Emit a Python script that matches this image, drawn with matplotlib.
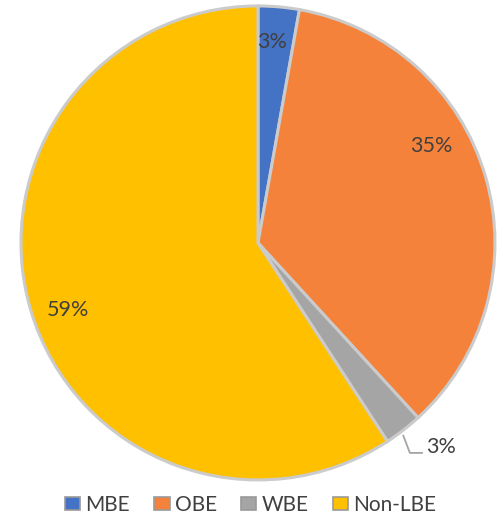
import matplotlib.pyplot as plt
from matplotlib.patches import Patch

# data
labels = ['MBE', 'OBE', 'WBE', 'Non-LBE']
shares = [2.8, 35.4, 2.6, 59.2]
colors = ['#4472C4', '#F5823A', '#A5A5A5', '#FFC000']
text_color = '#404040'

# where the data labels sit (fraction of the radius, like Excel's best fit)
label_pos = [(0.06, 0.85), (0.73, 0.41), (0.71, -0.86), (-0.80, -0.285)]

plt.rcParams['font.family'] = ['Lato', 'DejaVu Sans']

fig = plt.figure(figsize=(4.99, 5.18), dpi=100)
ax = fig.add_axes([0.042, 0.0735, 0.95, 0.915])

wedges, texts, autotexts = ax.pie(
    shares, colors=colors, startangle=90, counterclock=False,
    autopct=lambda p: '%d%%' % round(p),
    wedgeprops=dict(edgecolor='#CBCBCB', linewidth=2.2),
    textprops=dict(color=text_color, fontsize=15.5),
)
ax.set_xlim(-1, 1)
ax.set_ylim(-1, 1)
ax.set_aspect('equal')

for t, (x, y) in zip(autotexts, label_pos):
    t.set_position((x, y))
autotexts[2].set_ha('left')

# leader line for the small WBE slice
ax.plot([0.612, 0.641, 0.696], [-0.81, -0.886, -0.886], color='#A5A5A5', lw=1.3,
        solid_capstyle='butt', clip_on=False)

handles = [Patch(facecolor=c, edgecolor='#9A9A9A', linewidth=1.2) for c in colors]
fig.legend(handles, labels, loc='lower center', bbox_to_anchor=(0.502, -0.03),
           ncol=4, frameon=False, fontsize=15, labelcolor=text_color,
           handlelength=0.75, handleheight=0.63, handletextpad=0.25,
           columnspacing=1.15)

fig.savefig('out.png', dpi=100)
